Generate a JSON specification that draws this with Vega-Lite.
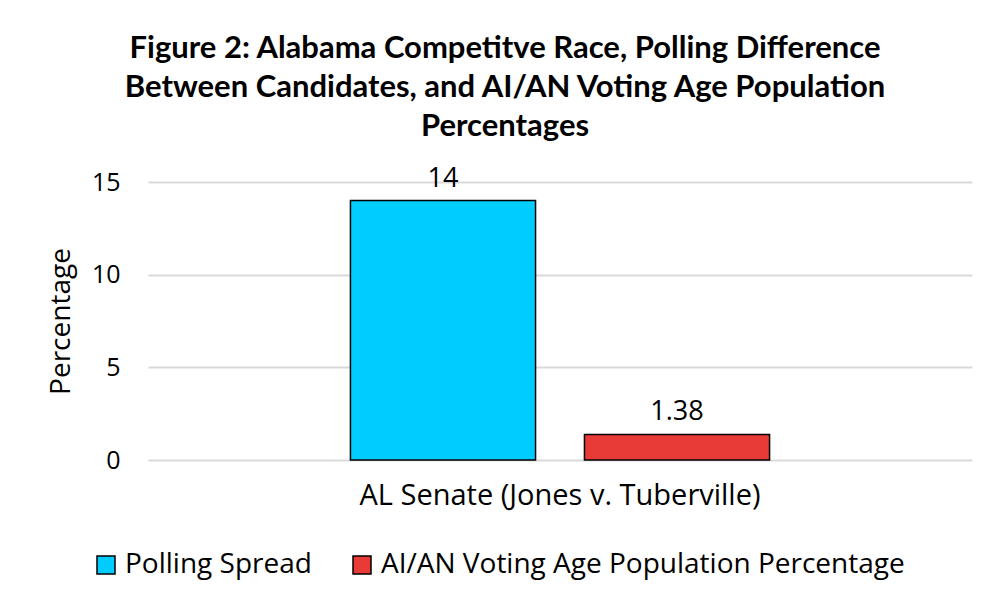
{
  "$schema": "https://vega.github.io/schema/vega-lite/v6.json",
  "width": 824,
  "height": 278,
  "autosize": {"type": "none"},
  "padding": {"left": 148, "top": 182, "right": 18, "bottom": 144},
  "background": "white",
  "config": {"view": {"stroke": null}},
  "title": {
    "text": [
      "Figure 2: Alabama Competitve Race, Polling Difference",
      "Between Candidates, and AI/AN Voting Age Population",
      "Percentages"
    ],
    "font": "Lato",
    "fontSize": 31,
    "fontWeight": "bold",
    "color": "#000000",
    "lineHeight": 39,
    "anchor": "middle",
    "dx": -55,
    "offset": 22
  },
  "data": {
    "values": [
      {"race": "AL Senate (Jones v. Tuberville)", "series": "Polling Spread", "value": 14},
      {"race": "AL Senate (Jones v. Tuberville)", "series": "AI/AN Voting Age Population Percentage", "value": 1.38}
    ]
  },
  "encoding": {
    "x": {
      "field": "race",
      "type": "nominal",
      "scale": {"paddingInner": 0, "paddingOuter": 0.483},
      "axis": {
        "title": null,
        "labelAngle": 0,
        "labelFont": "Open Sans",
        "labelFontSize": 29,
        "labelColor": "#000000",
        "labelPadding": 21,
        "labelLimit": 0,
        "ticks": false,
        "domain": false
      }
    },
    "xOffset": {
      "field": "series",
      "type": "nominal",
      "sort": ["Polling Spread", "AI/AN Voting Age Population Percentage"],
      "scale": {"paddingInner": 0.209, "paddingOuter": 0}
    },
    "y": {
      "field": "value",
      "type": "quantitative",
      "scale": {"domain": [0, 15]},
      "axis": {
        "values": [0, 5, 10, 15],
        "title": "Percentage",
        "titleFont": "Open Sans",
        "titleFontSize": 28,
        "titleFontWeight": "normal",
        "titleColor": "#000000",
        "titlePadding": 16,
        "labelFont": "Open Sans",
        "labelFontSize": 25,
        "labelColor": "#000000",
        "labelPadding": 28,
        "ticks": false,
        "domain": false,
        "gridColor": "#d9d9d9",
        "gridWidth": 2
      }
    }
  },
  "layer": [
    {
      "mark": {"type": "bar", "stroke": "#000000", "strokeWidth": 1.5},
      "encoding": {
        "color": {
          "field": "series",
          "type": "nominal",
          "sort": ["Polling Spread", "AI/AN Voting Age Population Percentage"],
          "scale": {
            "domain": ["Polling Spread", "AI/AN Voting Age Population Percentage"],
            "range": ["#00ccff", "#e83a36"]
          },
          "legend": {
            "title": null,
            "orient": "none",
            "direction": "horizontal",
            "legendX": -56,
            "legendY": 369,
            "symbolType": "square",
            "symbolSize": 324,
            "symbolStrokeColor": "#000000",
            "symbolStrokeWidth": 1.5,
            "symbolOpacity": 1,
            "labelFont": "Open Sans",
            "labelFontSize": 28,
            "labelColor": "#000000",
            "labelOffset": 5,
            "labelLimit": 0,
            "columnPadding": 36
          }
        }
      }
    },
    {
      "mark": {"type": "text", "baseline": "bottom", "dy": -8, "font": "Open Sans", "fontSize": 27, "color": "#000000"},
      "encoding": {
        "text": {"field": "value", "type": "nominal"}
      }
    }
  ]
}
